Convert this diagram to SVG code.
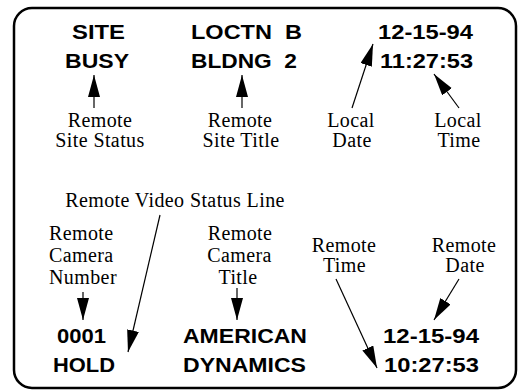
<svg xmlns="http://www.w3.org/2000/svg" width="519" height="392" viewBox="0 0 519 392">
<style>
.b{font-family:"Liberation Sans",Arial,sans-serif;font-weight:bold;font-size:20px;fill:#000}
.s{font-family:"Liberation Serif","Times New Roman",serif;font-size:20px;letter-spacing:0.4px;fill:#000;text-anchor:middle}
.l{text-anchor:start}
.c{stroke:#000;stroke-width:1.2;fill:none;marker-end:url(#ah)}
</style>
<defs>
<marker id="ah" markerUnits="userSpaceOnUse" markerWidth="23" markerHeight="13" refX="22" refY="6" orient="auto">
<path d="M0,0 L22,6 L0,12 Z" fill="#000"/>
</marker>
</defs>
<rect x="14" y="8" width="502" height="380" rx="18" ry="18" fill="#fff" stroke="#000" stroke-width="2.5"/>
<g id="site-busy"><text class="b" x="72" y="39" textLength="53" lengthAdjust="spacingAndGlyphs">SITE</text><text class="b" x="65" y="68" textLength="64" lengthAdjust="spacingAndGlyphs">BUSY</text></g>
<g id="site-title"><text class="b" x="191" y="39" textLength="111" lengthAdjust="spacingAndGlyphs" xml:space="preserve">LOCTN  B</text><text class="b" x="191" y="68" textLength="106" lengthAdjust="spacingAndGlyphs" xml:space="preserve">BLDNG  2</text></g>
<g id="local-datetime"><text class="b" x="378" y="39" textLength="95" lengthAdjust="spacingAndGlyphs">12-15-94</text><text class="b" x="380" y="68" textLength="93" lengthAdjust="spacingAndGlyphs">11:27:53</text></g>
<g id="label-site-status"><text class="s" x="100" y="127">Remote</text><text class="s" x="100" y="147">Site Status</text></g>
<g id="label-site-title"><text class="s" x="240" y="127">Remote</text><text class="s" x="241" y="147">Site Title</text></g>
<g id="label-local-date"><text class="s" x="351" y="127">Local</text><text class="s" x="352" y="147">Date</text></g>
<g id="label-local-time"><text class="s" x="458" y="127">Local</text><text class="s" x="459" y="147">Time</text></g>
<g id="label-video-status"><text class="s" x="175" y="207">Remote Video Status Line</text></g>
<g id="label-camera-number"><text class="s l" x="49" y="240">Remote</text><text class="s l" x="49" y="262">Camera</text><text class="s l" x="49" y="284">Number</text></g>
<g id="label-camera-title"><text class="s" x="240" y="240">Remote</text><text class="s" x="239.5" y="262">Camera</text><text class="s" x="238" y="284">Title</text></g>
<g id="label-remote-time"><text class="s" x="344" y="252">Remote</text><text class="s" x="344.5" y="272">Time</text></g>
<g id="label-remote-date"><text class="s" x="464" y="252">Remote</text><text class="s" x="465" y="272">Date</text></g>
<g id="camera-number"><text class="b" x="57" y="343" textLength="49" lengthAdjust="spacingAndGlyphs">0001</text><text class="b" x="53" y="372" textLength="62" lengthAdjust="spacingAndGlyphs">HOLD</text></g>
<g id="camera-title"><text class="b" x="183" y="343" textLength="124" lengthAdjust="spacingAndGlyphs">AMERICAN</text><text class="b" x="183" y="372" textLength="123" lengthAdjust="spacingAndGlyphs">DYNAMICS</text></g>
<g id="remote-datetime"><text class="b" x="383" y="343" textLength="96" lengthAdjust="spacingAndGlyphs">12-15-94</text><text class="b" x="384" y="372" textLength="95" lengthAdjust="spacingAndGlyphs">10:27:53</text></g>
<g id="connectors">
<line class="c" x1="94" y1="108" x2="94" y2="75"/>
<line class="c" x1="242" y1="108" x2="242" y2="75"/>
<line class="c" x1="352" y1="108" x2="373" y2="44"/>
<line class="c" x1="459" y1="108" x2="434" y2="74"/>
<line class="c" x1="160" y1="215" x2="128" y2="352"/>
<line class="c" x1="83" y1="292" x2="83" y2="320"/>
<line class="c" x1="237" y1="288" x2="237" y2="320"/>
<line class="c" x1="336" y1="279" x2="377" y2="368"/>
<line class="c" x1="459" y1="279" x2="434" y2="320"/>
</g>
</svg>
